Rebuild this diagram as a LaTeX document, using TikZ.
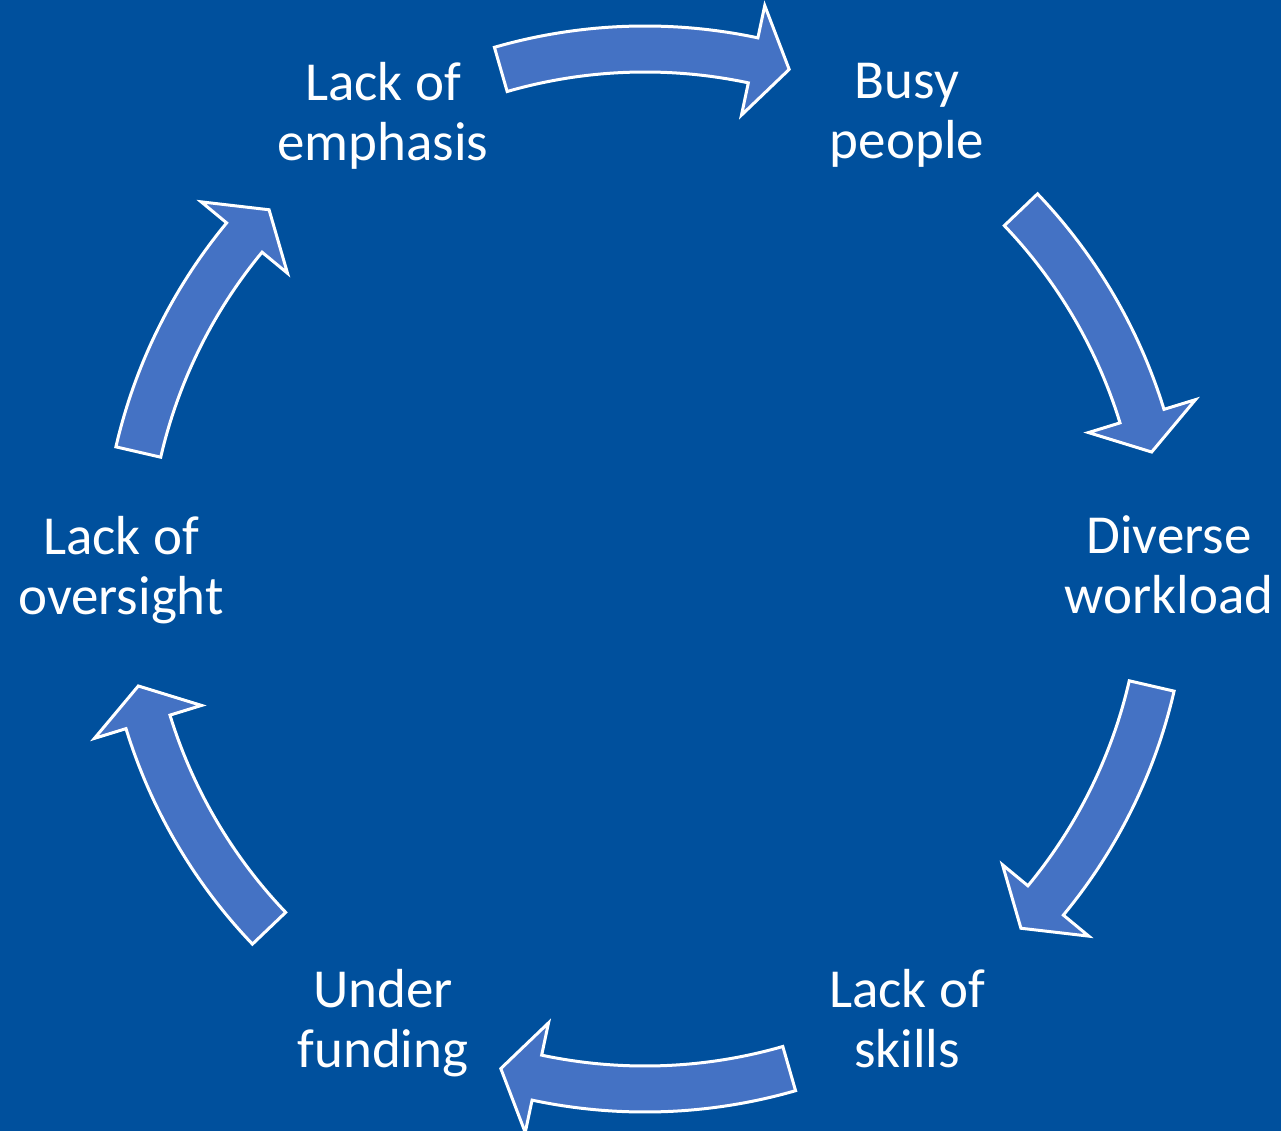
\documentclass[tikz,border=0pt]{standalone}
\usepackage{fontspec}
\setmainfont{Carlito}
\usepackage{xcolor}
\definecolor{slideblue}{HTML}{00509D}
\definecolor{arrowblue}{HTML}{4472C4}
\tikzset{
	stage/.style={
			text=white, align=center, inner sep=0pt, yshift=-2.5pt,
			font=\fontsize{27.5}{30}\selectfont,
			execute at begin node=\strut, execute at end node=\strut
		},
	cyclearrow/.style={fill=arrowblue, draw=white, line width=1.5pt, line join=miter}
}

\begin{document}
\begin{tikzpicture}[x=0.5pt, y=0.5pt]
			% Background of the slide
			\fill[slideblue] (-645,-562) rectangle (636,569);

			% Stages of the cycle
			\node[stage] (emphasis) at (120:524) {Lack of\\emphasis};
			\node[stage] (busy) at (60:524) {Busy\\people};
			\node[stage] (workload) at (0:524) {Diverse\\workload};
			\node[stage] (skills) at (-60:524) {Lack of\\skills};
			\node[stage] (funding) at (-120:524) {Under\\funding};
			\node[stage] (oversight) at (180:524) {Lack of\\oversight};

			% Curved arrows between the stages
			\foreach \ta/\tp in {106.1/73.9, 43.7/13, -13/-43.7, -73.9/-106.1, -136.3/-167, 167/136.3}{
				\pgfmathsetmacro{\hb}{\tp+4.1}
				\draw[cyclearrow] (\ta:543) arc[start angle=\ta, end angle=\hb, radius=543]
					-- (\hb:576) -- (\tp:520) -- (\hb:464) -- (\hb:497)
					arc[start angle=\hb, end angle=\ta, radius=497] -- cycle;
			}
		\end{tikzpicture}
\end{document}
